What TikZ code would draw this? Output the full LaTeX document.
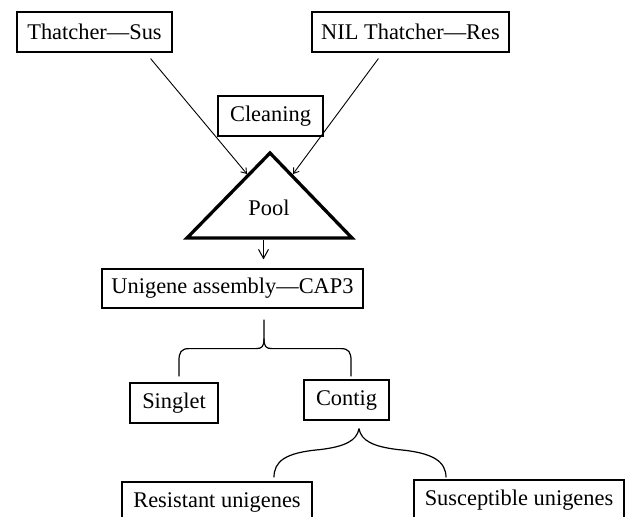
\documentclass[tikz,border=0pt]{standalone}
\usepackage{fontspec}
\setmainfont{Liberation Serif}
\usetikzlibrary{arrows.meta,calc}
\begin{document}
\begin{tikzpicture}[x=1pt,y=-1pt,
  box/.style={draw, line width=1.2pt, inner sep=0pt, minimum height=40pt, font=\fontsize{22.4}{26}\selectfont},
  conn/.style={line width=0.9pt, -{Straight Barb[length=5pt,width=7pt]}},
  downarrow/.style={line width=1pt, -{Straight Barb[length=9pt,width=10pt]}},
  bracepath/.style={line width=1.2pt},
  tri/.style={line width=3.3pt, line join=miter},
  lbl/.style={font=\fontsize{22.4}{26}\selectfont, inner sep=0pt}]
\useasboundingbox (0,0) rectangle (627,517);
\clip (0,0) rectangle (627,517);
% boxes
\node[box, minimum width=155pt] (sus) at (94.5,32) {Thatcher—Sus};
\node[box, minimum width=197pt] (res) at (410.5,32) {NIL Thatcher—Res};
\node[box, minimum width=105pt] (clean) at (270.5,116) {Cleaning};
\node[box, minimum width=261pt, minimum height=39pt] (unigene) at (232.5,288.5) {Unigene assembly—CAP3};
\node[box, minimum width=88pt] (singlet) at (174,403) {Singlet};
\node[box, minimum width=85pt] (contig) at (346.5,400) {Contig};
\node[box, minimum width=190pt] (resist) at (217,502) {Resistant unigenes};
\node[box, minimum width=210pt] (suscep) at (519,500) {Susceptible unigenes};
% triangle
\coordinate (apex) at (270,153);
\coordinate (bl) at (187,238);
\coordinate (br) at (352,238);
\draw[tri] (apex) -- (bl) -- (br) -- cycle;
\node[lbl] (pool) at (269,208) {Pool};
% connectors into the pool
\coordinate (susout) at ($(sus.south east)+(-22,6)$);
\coordinate (resout) at ($(res.south west)+(67,6)$);
\coordinate (tinl) at ($(apex)+(-23,21)$);
\coordinate (tinr) at ($(apex)+(23,21)$);
\draw[conn] (susout) -- (tinl);
\draw[conn] (resout) -- (tinr);
% pool to unigene
\coordinate (poolout) at (263.5,240);
\coordinate (unigenein) at ($(unigene.north)+(31,-9)$);
\draw[downarrow] (poolout) -- (poolout |- unigenein);
% brace 1
\coordinate (b1top) at ($(unigene.south)+(31.5,11)$);
\coordinate (b1l) at ($(singlet.north)+(5,-6)$);
\coordinate (b1r) at ($(contig.north)+(4.5,-3)$);
\draw[bracepath] (b1top) -- ++(0,19) .. controls ++(0,8) and ++(6,0) .. ++(-8,10)
  -- ($(b1l |- b1top)+(10,29)$) .. controls ++(-8,0) and ++(0,-8) .. ($(b1l |- b1top)+(0,41)$) -- (b1l);
\draw[bracepath] (b1top) ++(0,19) .. controls ++(0,8) and ++(-6,0) .. ++(8,10)
  -- ($(b1r |- b1top)+(-10,29)$) .. controls ++(8,0) and ++(0,-8) .. ($(b1r |- b1top)+(0,41)$) -- (b1r);
% brace 2
\coordinate (b2top) at ($(contig.south)+(12.5,8)$);
\coordinate (b2l) at ($(resist.north)+(57,-4)$);
\coordinate (b2r) at ($(suscep.north)+(-73,-2)$);
\draw[bracepath] (b2top) .. controls ++(-2,12) and ++(25,-3) .. ++(-39,21)
  .. controls ++(-35,3) and ++(0,-16) .. (b2l);
\draw[bracepath] (b2top) .. controls ++(2,12) and ++(-25,-3) .. ++(39,21)
  .. controls ++(35,3) and ++(0,-16) .. (b2r);
\end{tikzpicture}
\end{document}
